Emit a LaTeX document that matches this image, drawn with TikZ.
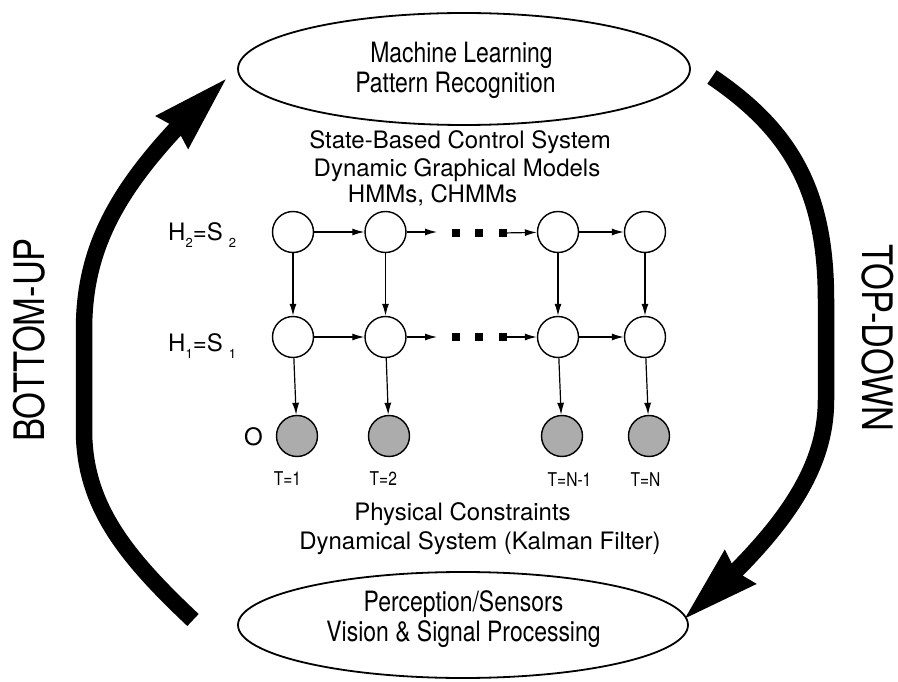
\documentclass[tikz,border=0pt]{standalone}
\usepackage{fontspec}
\setmainfont{TeX Gyre Heros}
\newfontfamily\narrowfont{TeX Gyre Heros}[FakeStretch=0.82]
\usetikzlibrary{shapes.geometric,arrows.meta,bending}
\definecolor{obsgray}{RGB}{172,172,172}
\newcommand{\lowidx}[1]{\raisebox{-7pt}{\fontsize{13}{13}\selectfont #1}}
\begin{document}
\begin{tikzpicture}[x=1pt,y=-1pt,
  hidden/.style={circle,draw,line width=1.4pt,minimum size=41pt,inner sep=0pt,fill=white},
  observed/.style={hidden,fill=obsgray},
  dotsq/.style={rectangle,fill=black,minimum size=8pt,inner sep=0pt},
  edge/.style={line width=1.2pt,-{Latex[length=12pt,width=7pt]}},
  bigarrow/.style={line width=16.5pt,-{Stealth[length=76pt,width=47pt,inset=7pt,line width=0pt,flex]}},
  layer/.style={ellipse,draw,line width=1.8pt,inner sep=0pt},
  midtext/.style={font=\fontsize{24}{27}\selectfont,anchor=base,inner sep=0pt},
  layertext/.style={font=\narrowfont\fontsize{28}{30}\selectfont,anchor=base,inner sep=0pt},
  steptext/.style={font=\narrowfont\fontsize{19}{20}\selectfont,anchor=base,inner sep=0pt},
  sidetext/.style={font=\narrowfont\fontsize{42}{44}\selectfont,inner sep=0pt}]
\useasboundingbox (0,0) rectangle (898,682);

% the two processing layers
\node[layer,minimum width=452pt,minimum height=112pt] (ml) at (464,69) {};
\node[layer,minimum width=450pt,minimum height=106pt] (perc) at (463,625) {};
\node[layertext] (mlA) at (461.5,63) {Machine Learning};
\node[layertext] (mlB) at (455.5,93) {Pattern Recognition};
\node[layertext] (pcA) at (463.5,611.7) {Perception/Sensors};
\node[layertext] (pcB) at (463.5,641.7) {Vision \& Signal Processing};

% descriptive text
\node[midtext] (dsA) at (460,148.5) {State-Based Control System};
\node[midtext] (dsB) at (457,177) {Dynamic Graphical Models};
\node[midtext] (dsC) at (432.5,203) {HMMs, CHMMs};
\node[midtext] (dsD) at (462.5,520) {Physical Constraints};
\node[midtext] (dsE) at (480,549) {Dynamical System (Kalman Filter)};

% row labels
\node[midtext,anchor=base west] (lbH2) at (168,240.5) {H\lowidx{2}=S\hspace{6pt}\lowidx{2}};
\node[midtext,anchor=base west] (lbH1) at (168,351.5) {H\lowidx{1}=S\hspace{6pt}\lowidx{1}};
\node[midtext,anchor=base west] (lbO) at (244,445) {O};

% hidden chains and observations
\node[hidden] (h2a) at (293,232) {};
\node[hidden] (h2b) at (385.5,232) {};
\node[hidden] (h2c) at (558,232) {};
\node[hidden] (h2d) at (645,232) {};
\node[hidden] (h1a) at (293,337) {};
\node[hidden] (h1b) at (385.5,337) {};
\node[hidden] (h1c) at (558,337) {};
\node[hidden] (h1d) at (645,337) {};
\node[observed] (oa) at (297,436) {};
\node[observed] (ob) at (389,436) {};
\node[observed] (oc) at (562,436) {};
\node[observed] (od) at (649,436) {};

% elided time steps
\coordinate (gapT) at (437,232);
\coordinate (gapB) at (437,337);
\node[dotsq] (sqT1) at (456,233) {};
\node[dotsq] (sqT2) at (479,233) {};
\node[dotsq] (sqT3) at (502.5,233) {};
\node[dotsq] (sqB1) at (456,337) {};
\node[dotsq] (sqB2) at (479,337) {};
\node[dotsq] (sqB3) at (502.5,337) {};

% time step labels
\node[steptext] (ta) at (287.5,485) {T=1};
\node[steptext] (tb) at (383.3,485) {T=2};
\node[steptext] (tc) at (569.5,486) {T=N-1};
\node[steptext] (td) at (645.5,486) {T=N};

% transitions
\draw[edge] (h2a) -- (h2b);
\draw[edge] (h2b) -- (gapT);
\draw[edge] (sqT3) -- (h2c);
\draw[edge] (h2c) -- (h2d);
\draw[edge] (h1a) -- (h1b);
\draw[edge] (h1b) -- (gapB);
\draw[edge] (sqB3) -- (h1c);
\draw[edge] (h1c) -- (h1d);
\foreach \c in {a,b,c,d}{
  \draw[edge] (h2\c) -- (h1\c);
  \draw[edge] (h1\c) -- (o\c);
}

% processing directions
\coordinate (buStart) at (193,620);
\coordinate (buEnd) at (225.7,79.3);
\coordinate (tdStart) at (712,77);
\coordinate (tdEnd) at (685,618.3);
\draw[bigarrow] (buStart) .. controls (125,556) and (84,505) .. (84,430)
  -- (84,330) .. controls (84,240) and (123.4,174.8) .. (buEnd);
\draw[bigarrow] (tdStart) .. controls (790,130) and (826,190) .. (826,300)
  -- (826,400) .. controls (826,470) and (783.2,532.7) .. (tdEnd);

\node[sidetext,rotate=90] (bu) at (29,340) {BOTTOM-UP};
\node[sidetext,rotate=-90] (td) at (878,338) {TOP-DOWN};
\end{tikzpicture}
\end{document}
